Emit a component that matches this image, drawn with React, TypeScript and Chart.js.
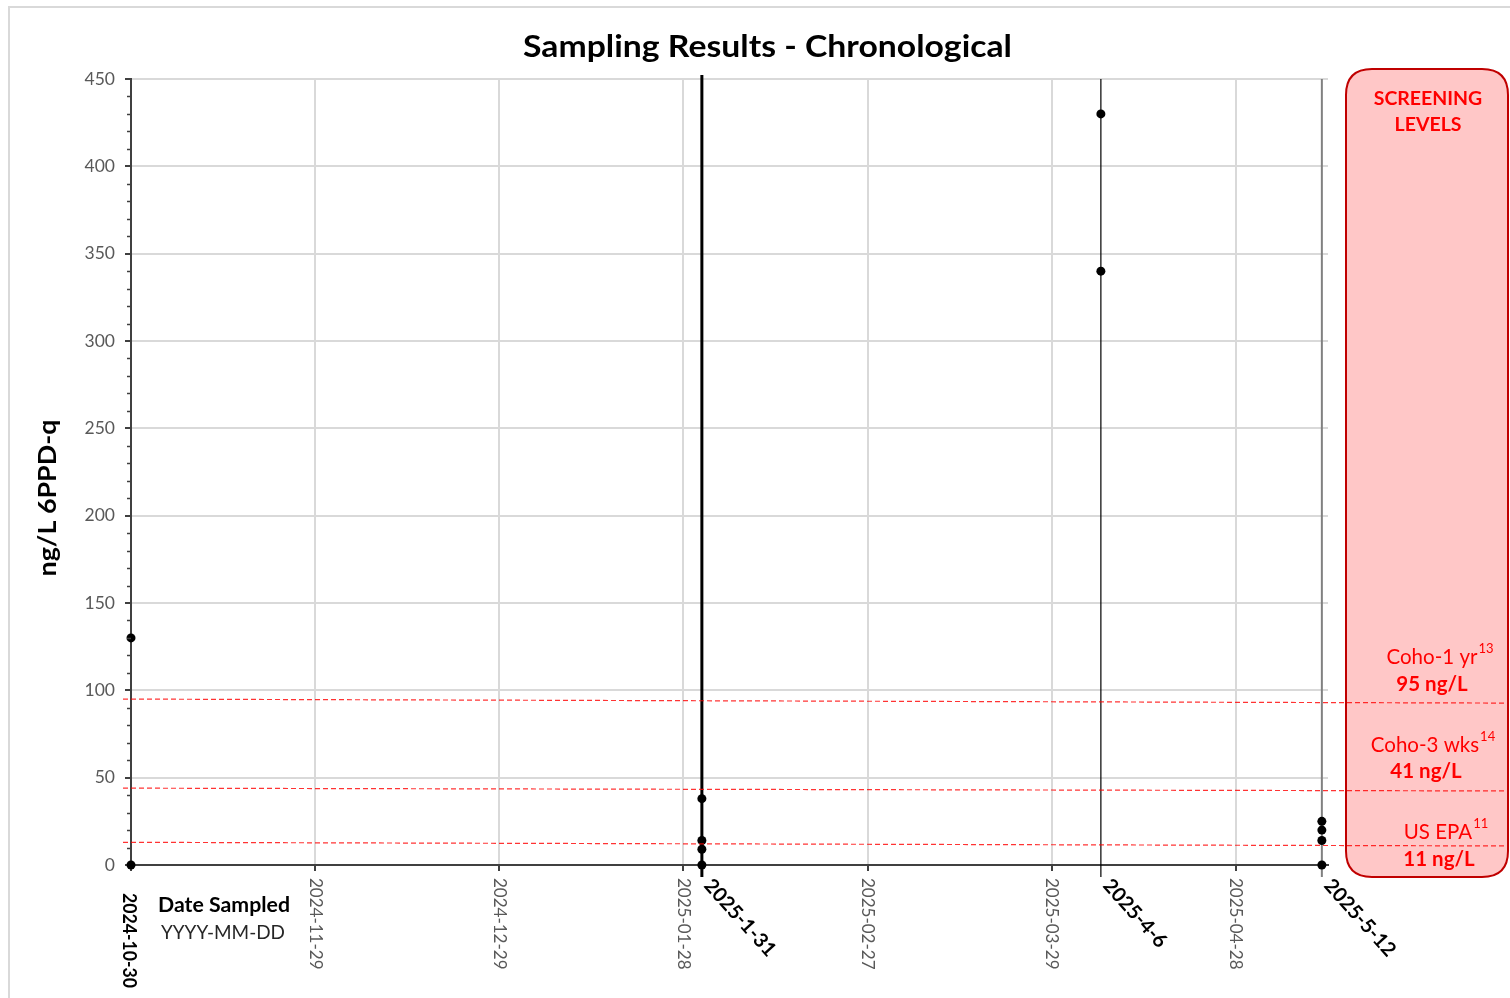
import React, { useEffect, useRef } from "react";
import { Chart, registerables } from "chart.js";

Chart.register(...registerables);

// ---------- data ----------
const chartTitle = "Sampling Results - Chronological";
const yAxisTitle = "ng/L 6PPD-q";
const xAxisTitle = "Date Sampled";
const xAxisSubtitle = "YYYY-MM-DD";
const axisStartDate = "2024-10-30";
const axisEndDays = 195;
const tickStepDays = 30;
const yMin = 0;
const yMax = 450;
const yStep = 50;
const yMinorStep = 10;

const sampleDates = ["2024-10-30", "2025-01-31", "2025-04-06", "2025-05-12"];
const sampleLabels = ["2024-10-30", "2025-1-31", "2025-4-6", "2025-5-12"];
const sampleValues: number[][] = [
  [130, 0],
  [38, 14, 9, 0],
  [430, 340],
  [25, 20, 14, 0],
];

const panelTitle = ["SCREENING", "LEVELS"];
const levelNames = ["Coho-1 yr", "Coho-3 wks", "US EPA"];
const levelRefs = ["13", "14", "11"];
const levelValues = [95, 41, 11];
const levelLineStart = [95, 44, 13];
const levelLineEnd = [92.7, 42.4, 10.9];

// ---------- helpers ----------
const FONT = "Lato, 'Open Sans', sans-serif";
const DAY = 86400000;
const parseDate = (s: string) => {
  const [y, m, d] = s.split("-").map(Number);
  return Date.UTC(y, m - 1, d);
};
const dayOffset = (s: string) => Math.round((parseDate(s) - parseDate(axisStartDate)) / DAY);
const formatDay = (day: number) =>
  new Date(parseDate(axisStartDate) + day * DAY).toISOString().slice(0, 10);

const points = sampleDates.flatMap((d, i) =>
  sampleValues[i].map((v) => ({ x: dayOffset(d), y: v }))
);

const sampleLineStyles = [
  null,
  { color: "#000000", width: 3, extraTop: 4 },
  { color: "#000000", width: 1.2, extraTop: 0 },
  { color: "#808080", width: 2, extraTop: 0 },
];

function roundRect(ctx: CanvasRenderingContext2D, x: number, y: number, w: number, h: number, r: number) {
  ctx.beginPath();
  ctx.moveTo(x + r, y);
  ctx.lineTo(x + w - r, y);
  ctx.quadraticCurveTo(x + w, y, x + w, y + r);
  ctx.lineTo(x + w, y + h - r);
  ctx.quadraticCurveTo(x + w, y + h, x + w - r, y + h);
  ctx.lineTo(x + r, y + h);
  ctx.quadraticCurveTo(x, y + h, x, y + h - r);
  ctx.lineTo(x, y + r);
  ctx.quadraticCurveTo(x, y, x + r, y);
  ctx.closePath();
}

// draw text stretched horizontally to a target width (keeps it real text)
function fillFit(ctx: CanvasRenderingContext2D, text: string, x: number, y: number, target: number) {
  const w = ctx.measureText(text).width;
  const s = w > 0 ? target / w : 1;
  ctx.save();
  ctx.translate(x, y);
  ctx.scale(s, 1);
  ctx.fillText(text, 0, 0);
  ctx.restore();
}

const decor = {
  id: "decor",
  beforeDraw(chart: any) {
    const ctx: CanvasRenderingContext2D = chart.ctx;
    ctx.save();
    ctx.fillStyle = "#ffffff";
    ctx.fillRect(0, 0, chart.width, chart.height);
    ctx.strokeStyle = "#d9d9d9";
    ctx.lineWidth = 2;
    ctx.strokeRect(9, 7, chart.width + 40, chart.height + 40);
    // screening panel
    roundRect(ctx, 1346, 69, 162, 808, 26);
    ctx.fillStyle = "#ffc7c7";
    ctx.fill();
    ctx.strokeStyle = "#c00000";
    ctx.lineWidth = 2;
    ctx.stroke();
    ctx.restore();
  },
  beforeDatasetsDraw(chart: any) {
    const ctx: CanvasRenderingContext2D = chart.ctx;
    const xs = chart.scales.x;
    const area = chart.chartArea;
    ctx.save();
    sampleDates.forEach((d, i) => {
      const st = sampleLineStyles[i];
      if (!st) return;
      const px = xs.getPixelForValue(dayOffset(d));
      ctx.strokeStyle = st.color;
      ctx.lineWidth = st.width;
      ctx.beginPath();
      ctx.moveTo(px, area.top - st.extraTop);
      ctx.lineTo(px, area.bottom + 12);
      ctx.stroke();
    });
    ctx.restore();
  },
  afterDraw(chart: any) {
    const ctx: CanvasRenderingContext2D = chart.ctx;
    const xs = chart.scales.x;
    const ys = chart.scales.y;
    const area = chart.chartArea;
    ctx.save();

    // title
    ctx.fillStyle = "#000";
    ctx.font = `bold 31px ${FONT}`;
    ctx.textAlign = "center";
    ctx.textBaseline = "middle";
    fillFit(ctx, chartTitle, 767.5, 47, 489);

    // y title
    ctx.save();
    ctx.translate(48, 498);
    ctx.rotate(-Math.PI / 2);
    ctx.font = `bold 25px ${FONT}`;
    fillFit(ctx, yAxisTitle, 0, 0, 157);
    ctx.restore();

    // minor y ticks
    ctx.strokeStyle = "#404040";
    ctx.lineWidth = 1.5;
    for (let v = yMin; v <= yMax; v += yMinorStep) {
      if (v % yStep === 0) continue;
      const py = Math.round(ys.getPixelForValue(v)) + 0.5;
      ctx.beginPath();
      ctx.moveTo(area.left - 4, py);
      ctx.lineTo(area.left, py);
      ctx.stroke();
    }

    // x tick labels (rotated clockwise)
    ctx.textAlign = "left";
    ctx.textBaseline = "middle";
    for (let d = tickStepDays; d <= axisEndDays; d += tickStepDays) {
      const px = xs.getPixelForValue(d);
      ctx.save();
      ctx.translate(px, area.bottom + 13);
      ctx.rotate(Math.PI / 2);
      ctx.fillStyle = "#595959";
      ctx.font = `17px ${FONT}`;
      ctx.fillText(formatDay(d), 0, 0);
      ctx.restore();
    }
    // start date bold
    ctx.save();
    ctx.translate(xs.getPixelForValue(0) - 2, area.bottom + 28);
    ctx.rotate(Math.PI / 2);
    ctx.fillStyle = "#000";
    ctx.font = `bold 18px ${FONT}`;
    fillFit(ctx, formatDay(0), 0, 0, 95);
    ctx.restore();

    // slanted sample labels
    sampleDates.forEach((d, i) => {
      if (i === 0) return;
      const px = xs.getPixelForValue(dayOffset(d));
      ctx.save();
      ctx.translate(px + 6, area.bottom + 17);
      ctx.rotate((48 * Math.PI) / 180);
      ctx.fillStyle = "#000";
      ctx.font = `bold 20px ${FONT}`;
      ctx.textAlign = "left";
      ctx.textBaseline = "middle";
      ctx.fillText(sampleLabels[i], 0, 0);
      ctx.restore();
    });

    // x axis caption
    ctx.fillStyle = "#000";
    ctx.textAlign = "left";
    ctx.font = `bold 20px ${FONT}`;
    fillFit(ctx, xAxisTitle, 158, 906, 132);
    ctx.fillStyle = "#262626";
    ctx.font = `19px ${FONT}`;
    fillFit(ctx, xAxisSubtitle, 161, 933, 124);

    // dashed screening lines
    ctx.strokeStyle = "rgba(255,0,0,0.8)";
    ctx.lineWidth = 1.2;
    ctx.setLineDash([5, 3]);
    levelValues.forEach((_, i) => {
      ctx.beginPath();
      ctx.moveTo(area.left - 8, ys.getPixelForValue(levelLineStart[i]));
      ctx.lineTo(1505, ys.getPixelForValue(levelLineEnd[i]));
      ctx.stroke();
    });
    ctx.setLineDash([]);

    // panel texts
    ctx.fillStyle = "#ff0000";
    ctx.textAlign = "center";
    ctx.font = `bold 19.5px ${FONT}`;
    ctx.fillText(panelTitle[0], 1428, 99);
    ctx.fillText(panelTitle[1], 1428, 125);

    const nameCenters = [1440, 1433, 1446];
    const nameY = [657, 745, 832];
    const valueCenters = [1432, 1426, 1439];
    const valueY = [684, 771, 859];
    levelNames.forEach((name, i) => {
      ctx.font = `20.5px ${FONT}`;
      const w = ctx.measureText(name).width;
      ctx.font = `13px ${FONT}`;
      const ws = ctx.measureText(levelRefs[i]).width;
      const left = nameCenters[i] - (w + ws + 1) / 2;
      ctx.textAlign = "left";
      ctx.font = `20.5px ${FONT}`;
      ctx.fillText(name, left, nameY[i]);
      ctx.font = `13px ${FONT}`;
      ctx.fillText(levelRefs[i], left + w + 1, nameY[i] - 8);
      ctx.textAlign = "center";
      ctx.font = `bold 20.5px ${FONT}`;
      ctx.fillText(`${levelValues[i]} ng/L`, valueCenters[i], valueY[i]);
    });

    ctx.restore();
  },
};

export default function App() {
  const canvasRef = useRef<HTMLCanvasElement>(null);

  useEffect(() => {
    document.body.style.margin = "0";
    const canvas = canvasRef.current;
    if (!canvas) return;
    const chart = new Chart(canvas, {
      type: "scatter",
      data: {
        datasets: [
          {
            data: points,
            backgroundColor: "#000000",
            borderColor: "#000000",
            borderWidth: 0,
            pointRadius: 4.5,
            pointHoverRadius: 4.5,
            clip: false as any,
          },
        ],
      },
      options: {
        responsive: false,
        maintainAspectRatio: false,
        devicePixelRatio: 1,
        animation: false,
        events: [],
        layout: { padding: { left: 0, top: 79, right: 182, bottom: 0 } },
        plugins: {
          legend: { display: false },
          title: { display: false },
          tooltip: { enabled: false },
        },
        scales: {
          x: {
            type: "linear",
            min: 0,
            max: axisEndDays,
            afterFit: (s: any) => {
              s.height = 133;
            },
            ticks: { stepSize: tickStepDays, includeBounds: false, display: false },
            grid: {
              color: "#d9d9d9",
              lineWidth: 2,
              tickColor: "#404040",
              tickWidth: 2,
              tickLength: 6,
              drawTicks: true,
            },
            border: { color: "#404040", width: 2 },
          },
          y: {
            type: "linear",
            min: yMin,
            max: yMax,
            afterFit: (s: any) => {
              s.width = 131;
            },
            ticks: {
              stepSize: yStep,
              color: "#595959",
              font: { family: FONT, size: 17.5 },
              padding: 10,
            },
            grid: {
              color: "#d9d9d9",
              lineWidth: 2,
              tickColor: "#404040",
              tickWidth: 2,
              tickLength: 6,
            },
            border: { color: "#404040", width: 2 },
          },
        },
      },
      plugins: [decor],
    });
    return () => chart.destroy();
  }, []);

  return (
    <div style={{ position: "absolute", left: 0, top: 0, width: 1510, height: 998 }}>
      <canvas ref={canvasRef} width={1510} height={998} style={{ width: 1510, height: 998 }} />
    </div>
  );
}
